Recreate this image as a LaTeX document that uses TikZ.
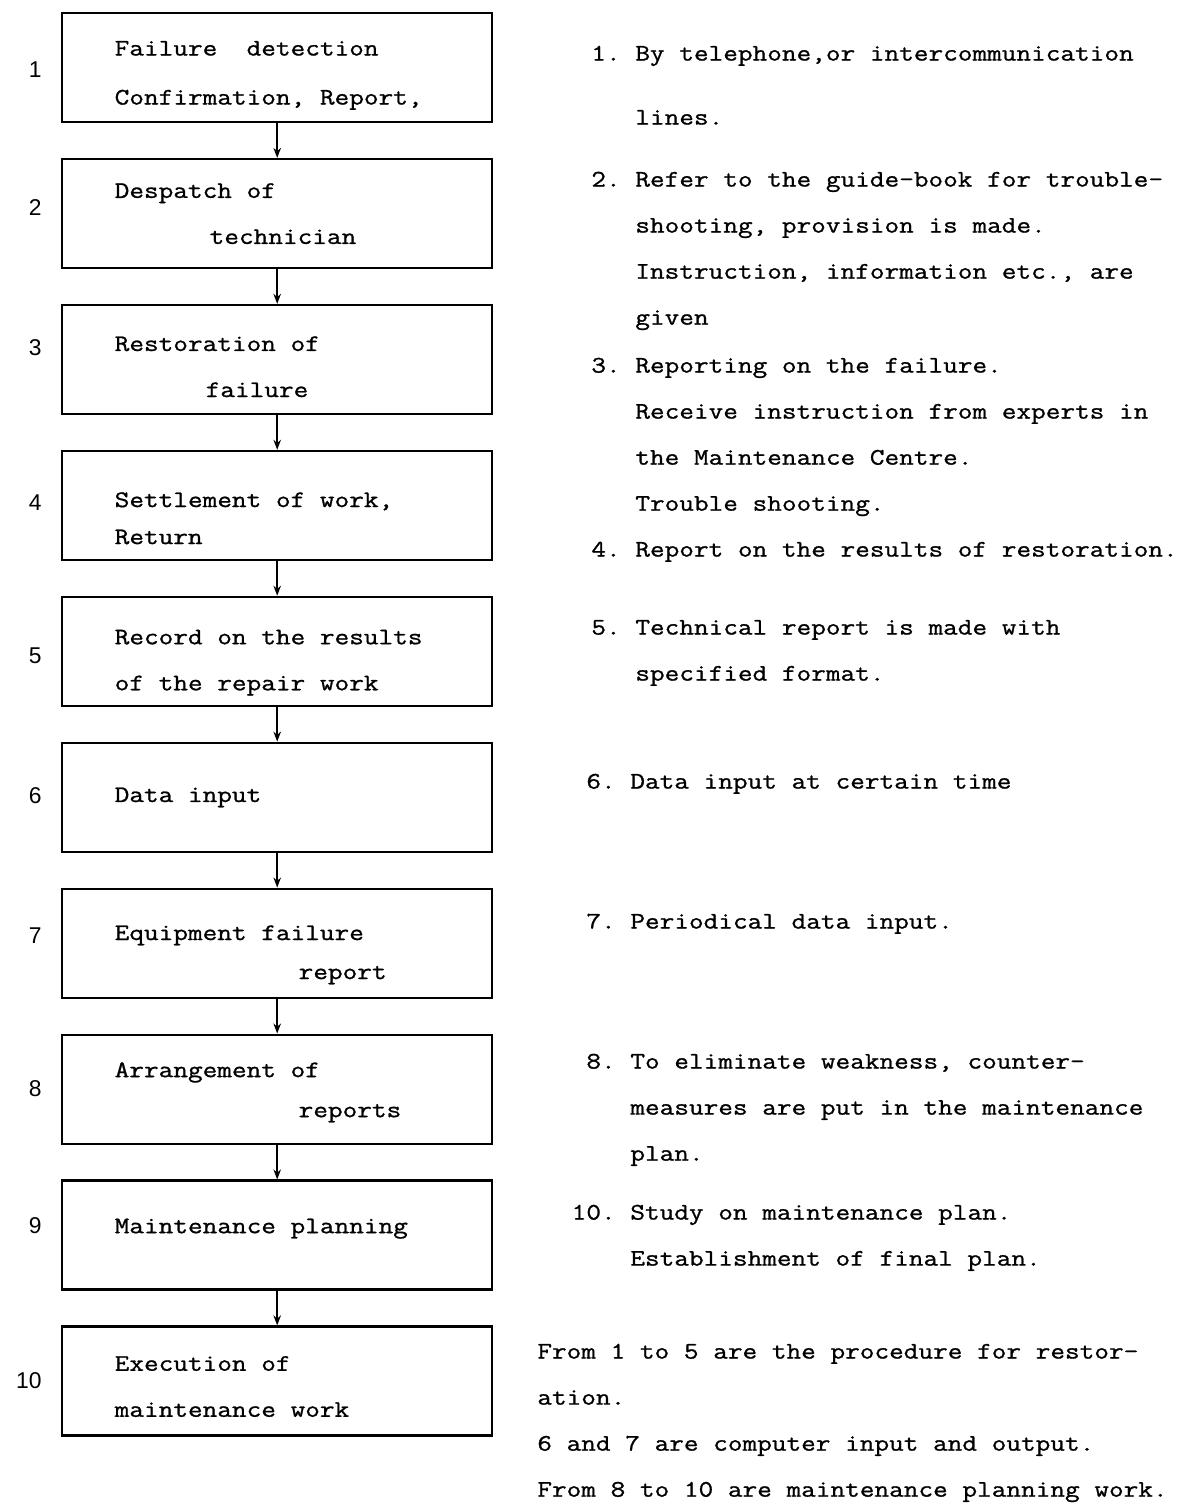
\documentclass[tikz,border=0pt]{standalone}
\usepackage{fontspec}
\setmonofont{Latin Modern Mono}[FakeStretch=1.2, FakeBold=1]
\newfontfamily\numfont{Liberation Sans}
\usetikzlibrary{positioning,arrows.meta}
\newcommand{\flowfont}{\ttfamily\fontsize{13.5}{26.2}\selectfont}

\tikzset{
  stepbox/.style={draw, line width=1.4pt, minimum height=2.18cm, text width=6.5cm,
    inner xsep=1.05cm, inner ysep=0pt, align=left, font=\flowfont,
    execute at begin node={\spaceskip=0pt\xspaceskip=0pt\relax}},
  steplabel/.style={font=\numfont\fontsize{13}{15}\selectfont, inner sep=0pt},
  note/.style={anchor=north west, inner sep=0pt, align=left, font=\flowfont,
    execute at begin node={\spaceskip=0pt\xspaceskip=0pt\relax}},
  flow/.style={line width=1.1pt, -{Stealth[length=0.2cm,width=0.15cm]}},
}

\begin{document}
\begin{tikzpicture}[x=0.02cm, y=-0.02cm]
  \useasboundingbox (0,0) rectangle (1194,1504);

  \node[stepbox, anchor=north west] (s1) at (61,12) {\rule{0pt}{17pt}Failure\ \ detection\\[0.06cm]Confirmation, Report,};
  \node[stepbox, below=0.69cm of s1] (s2) {Despatch of\\\hspace*{1.9cm}technician};
  \node[stepbox, below=0.69cm of s2] (s3) {\rule{0pt}{16.5pt}Restoration of\\\hspace*{1.82cm}failure};
  \node[stepbox, below=0.69cm of s3] (s4) {\rule{0pt}{23pt}Settlement of work,\\[-0.18cm]Return};
  \node[stepbox, below=0.69cm of s4] (s5) {\rule{0pt}{21pt}Record on the results\\of the repair work};
  \node[stepbox, below=0.69cm of s5] (s6) {Data input};
  \node[stepbox, below=0.69cm of s6] (s7) {\rule{0pt}{21.5pt}Equipment failure\\[-0.14cm]\hspace*{3.68cm}report};
  \node[stepbox, below=0.69cm of s7] (s8) {\rule{0pt}{12pt}Arrangement of\\[-0.12cm]\hspace*{3.68cm}reports};
  \node[stepbox, below=0.69cm of s8] (s9) {Maintenance planning\rule[-10.5pt]{0pt}{0pt}};
  \node[stepbox, below=0.69cm of s9] (s10) {\rule{0pt}{14.5pt}Execution of\\maintenance work};

  \foreach \i/\sh in {1/-0.04,2/0.12,3/0.24,4/0.06,5/-0.08,6/0.04,7/0.16,8/0.02,9/0.2,10/0}
    \node[steplabel, left=0.38cm of s\i, yshift=\sh cm] (n\i) {\i};
  \foreach \i [count=\j from 2] in {1,...,9}
    \draw[flow] (s\i) -- (s\j);

  \node[note] (t1) at (635,28) {\strut\llap{1.\ }By telephone,or intercommunication\\[0.36cm]lines.};
  \node[note] (t2) at (635,154) {\strut\llap{2.\ }Refer to the guide-book for trouble-\\shooting, provision is made.\\Instruction, information etc., are\\given};
  \node[note] (t3) at (635,340) {\strut\llap{3.\ }Reporting on the failure.\\Receive instruction from experts in\\the Maintenance Centre.\\Trouble shooting.};
  \node[note] (t4) at (635,524) {\strut\llap{4.\ }Report on the results of restoration.};
  \node[note] (t5) at (635,602) {\strut\llap{5.\ }Technical report is made with\\specified format.};
  \node[note] (t6) at (630,756) {\strut\llap{6.\ }Data input at certain time};
  \node[note] (t7) at (630,896) {\strut\llap{7.\ }Periodical data input.};
  \node[note] (t8) at (630,1036) {\strut\llap{8.\ }To eliminate weakness, counter-\\measures are put in the maintenance\\plan.};
  \node[note] (t10) at (630,1187) {\strut\llap{10.\ }Study on maintenance plan.\\Establishment of final plan.};
  \node[note] (sum) at (537,1326) {\strut From 1 to 5 are the procedure for restor-\\ation.\\6 and 7 are computer input and output.\\From 8 to 10 are maintenance planning work.};
\end{tikzpicture}
\end{document}
